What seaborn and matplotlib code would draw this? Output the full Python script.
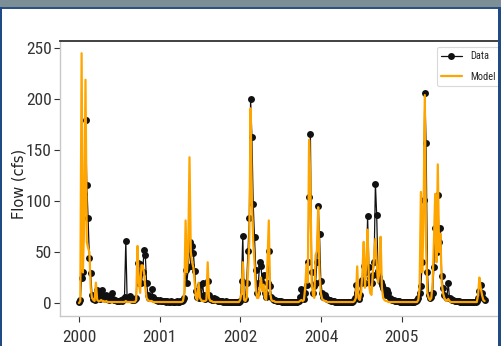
import numpy as np
import pandas as pd
import matplotlib
matplotlib.use("Agg")
import matplotlib.pyplot as plt
from matplotlib.patches import Rectangle
from matplotlib import font_manager
import seaborn as sns

# ---- data (weekly samples, index 0 = start of 2000) ----
data_flow = [
    1, 3, 25, 30, 107, 180, 116, 83, 44, 29, 8, 4, 3, 6, 13, 5, 4, 9, 13, 6,
    4, 8, 6, 3, 5, 10, 4, 3, 3, 2, 2, 2, 3, 2, 4, 6, 61, 5, 4, 7,
    5, 3, 3, 4, 5, 39, 20, 38, 20, 30, 52, 47, 20, 8, 5, 6, 14, 6, 4, 3,
    3, 2, 3, 2, 2, 2, 2, 1, 2, 1, 1, 2, 1, 1, 1, 2, 1, 1, 2, 2,
    3, 5, 32, 20, 35, 60, 36, 56, 49, 31, 12, 6, 5, 18, 6, 20, 8, 4, 5, 22,
    8, 4, 3, 3, 5, 4, 3, 2, 2, 2, 2, 1, 1, 2, 1, 1, 1, 1, 1, 1,
    1, 1, 1, 1, 2, 22, 66, 6, 4, 20, 51, 83, 200, 163, 97, 65, 32, 10, 20, 40,
    36, 20, 28, 10, 6, 20, 51, 17, 6, 4, 3, 3, 2, 2, 2, 2, 1, 1, 1, 1,
    1, 1, 1, 1, 1, 1, 1, 1, 1, 2, 6, 14, 8, 4, 10, 18, 40, 104, 166, 30,
    10, 17, 20, 40, 95, 68, 22, 10, 6, 8, 5, 4, 3, 3, 2, 2, 2, 1, 1, 1,
    1, 1, 1, 1, 1, 1, 1, 1, 1, 1, 1, 2, 5, 18, 10, 4, 8, 20, 23, 36,
    20, 30, 85, 35, 25, 20, 28, 40, 117, 86, 31, 26, 21, 18, 15, 10, 8, 13, 10, 5,
    4, 3, 3, 2, 2, 2, 2, 1, 1, 1, 1, 1, 1, 1, 1, 1, 1, 1, 1, 2,
    3, 5, 10, 17, 40, 101, 206, 157, 30, 8, 5, 6, 10, 35, 74, 50, 106, 60, 74, 27,
    15, 8, 6, 5, 20, 5, 4, 3, 3, 2, 2, 2, 2, 1, 1, 1, 1, 1, 1, 1,
    1, 1, 1, 1, 1, 1, 2, 5, 12, 18, 10, 5, 3,
]
model_flow = [
    0, 2, 245, 30, 80, 219, 60, 54, 50, 15, 5, 3, 2, 20, 3, 2, 2, 3, 2, 2,
    1, 2, 1, 1, 1, 1, 1, 1, 1, 1, 1, 1, 1, 1, 1, 1, 2, 1, 1, 1,
    1, 1, 1, 1, 3, 56, 20, 10, 37, 37, 30, 15, 5, 3, 2, 2, 2, 1, 1, 1,
    1, 1, 1, 1, 1, 1, 1, 1, 1, 1, 1, 1, 1, 1, 1, 1, 1, 1, 1, 1,
    2, 10, 81, 30, 50, 143, 50, 40, 35, 20, 5, 3, 20, 5, 3, 2, 2, 2, 3, 40,
    5, 2, 2, 1, 1, 1, 1, 1, 1, 1, 1, 1, 1, 1, 1, 1, 1, 1, 1, 1,
    1, 1, 1, 1, 3, 10, 40, 3, 2, 5, 30, 60, 191, 100, 60, 40, 15, 5, 5, 15,
    25, 12, 18, 5, 3, 43, 81, 10, 3, 2, 2, 1, 1, 1, 1, 1, 1, 1, 1, 1,
    1, 1, 1, 1, 1, 1, 1, 1, 1, 1, 2, 3, 2, 3, 15, 38, 20, 160, 120, 20,
    8, 5, 47, 51, 94, 30, 10, 4, 3, 2, 2, 1, 1, 1, 1, 1, 1, 1, 1, 1,
    1, 1, 1, 1, 1, 1, 1, 1, 1, 1, 1, 1, 2, 5, 36, 5, 3, 10, 30, 60,
    15, 40, 72, 20, 10, 8, 30, 45, 63, 40, 20, 30, 65, 15, 5, 3, 2, 2, 1, 1,
    1, 1, 1, 1, 1, 1, 1, 1, 1, 1, 1, 1, 1, 1, 1, 1, 1, 1, 1, 1,
    1, 3, 15, 109, 30, 80, 204, 55, 10, 5, 3, 5, 20, 60, 107, 40, 136, 50, 68, 20,
    10, 5, 3, 2, 4, 2, 1, 1, 1, 1, 1, 1, 1, 1, 1, 1, 1, 1, 1, 1,
    1, 1, 1, 1, 1, 1, 1, 8, 25, 15, 8, 3, 2,
]
week_index = list(range(len(data_flow)))
tick_positions = [0, 62.1, 124.2, 186.3, 248.4]
tick_labels = ["2000", "2001", "2002", "2004", "2005"]
y_ticks = [0, 50, 100, 150, 200, 250]

df = pd.DataFrame({"week": week_index, "Data": data_flow, "Model": model_flow})

sns.set_style("white")

def pick(fams):
    for f in fams:
        try:
            font_manager.findfont(font_manager.FontProperties(family=f), fallback_to_default=False)
            return f
        except Exception:
            continue
    return "DejaVu Sans"

narrow = pick(["Liberation Sans Narrow", "Roboto Condensed", "Open Sans Condensed", "DejaVu Sans Condensed", "Liberation Sans"])
plt.rcParams["font.family"] = [narrow, "DejaVu Sans"]

W, H = 501, 346
fig = plt.figure(figsize=(W / 100, H / 100), dpi=100)
fig.patch.set_facecolor("white")
ax_w = 506 - 60
ax = fig.add_axes([60 / W, 30 / H, ax_w / W, 275 / H])

sns.lineplot(data=df, x="week", y="Data", ax=ax, color="#111111", linewidth=0.9,
             marker="o", markersize=5, markeredgewidth=0, label="Data", zorder=2)
sns.lineplot(data=df, x="week", y="Model", ax=ax, color="#FFA500", linewidth=1.6,
             label="Model", zorder=3)

ax.set_xlim((60 - 79) / 1.3, (506 - 79) / 1.3)
ax.set_ylim(-12.7, 257)
ax.set_xticks(tick_positions)
ax.set_xticklabels(tick_labels)
ax.set_yticks(y_ticks)
ax.set_xlabel("")
ax.set_ylabel("Flow (cfs)", fontsize=10.5, family="DejaVu Sans", color="#222222")
ax.yaxis.set_label_coords((27 - 60) / ax_w, 0.48)
ax.tick_params(axis="both", which="major", labelsize=12.5, colors="#333333",
               length=4, width=0.8, direction="out", bottom=True, left=True)
ax.tick_params(axis="x", pad=6)
ax.tick_params(axis="y", pad=2)
for s in ["left", "bottom"]:
    ax.spines[s].set_color("#c8c8c8")
    ax.spines[s].set_linewidth(1.0)
ax.spines["top"].set_color("#333333")
ax.spines["top"].set_linewidth(1.3)
ax.spines["right"].set_visible(False)

leg = ax.legend(loc="upper right", fontsize=7.5, frameon=True, handlelength=2.0,
                borderaxespad=0.6, labelspacing=1.0)
leg.get_frame().set_edgecolor("#d0d0d0")
leg.get_frame().set_linewidth(0.8)

# screenshot frame
fig.add_artist(Rectangle((0, 1 - 7 / H), 1, 7 / H, transform=fig.transFigure,
                         facecolor="#7d8f96", edgecolor="none", zorder=20))
fig.add_artist(Rectangle((0, 1 - 8.5 / H), 1, 1.5 / H, transform=fig.transFigure,
                         facecolor="#2c5282", edgecolor="none", zorder=20))
fig.add_artist(Rectangle((0, 0), 2 / W, 1 - 7 / H, transform=fig.transFigure,
                         facecolor="#1f4a85", edgecolor="none", zorder=20))
fig.add_artist(Rectangle((498 / W, 0), 3 / W, 1 - 7 / H, transform=fig.transFigure,
                         facecolor="#1f4a85", edgecolor="none", zorder=20))

fig.savefig("out.png", dpi=100)
